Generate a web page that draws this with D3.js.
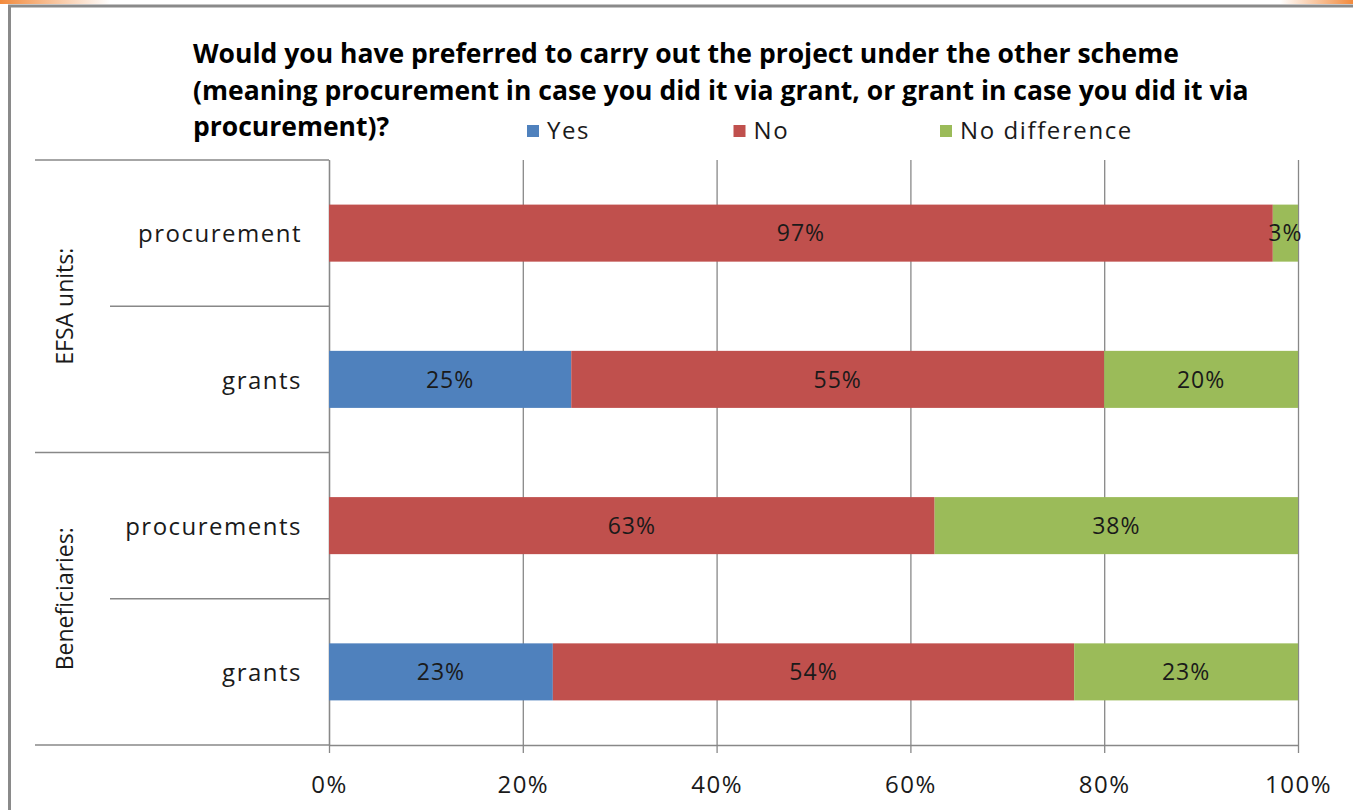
<!DOCTYPE html>
<html>
<head>
<meta charset="utf-8">
<script src="https://cdn.jsdelivr.net/npm/d3@7"></script>
<style>
    body { margin: 0; background: #fff; }
    text { fill: #1a1a1a; }
</style>
</head>
<body>
<div id="graph"></div>
<script>
// chart values
var categories = ['procurement', 'grants', 'procurements', 'grants'];
var categoryGroup = ['EFSA units:', 'EFSA units:', 'Beneficiaries:', 'Beneficiaries:'];
var groups = ['EFSA units:', 'Beneficiaries:'];
var series = ['Yes', 'No', 'No difference'];
var yesValues = [0, 25, 0, 23.1];
var noValues = [97.4, 55, 62.5, 53.8];
var noDiffValues = [2.6, 20, 37.5, 23.1];
var xTicks = [0, 20, 40, 60, 80, 100];
var titleLines = [
    'Would you have preferred to carry out the project under the other scheme',
    '(meaning procurement in case you did it via grant, or grant in case you did it via',
    'procurement)?'
];

var colors = ['#4f81bd', '#c0504d', '#9bbb59'];
var gridColor = '#888888';

var width = 1353,
    height = 810;
var plot = { left: 329, right: 1298, top: 160, bottom: 745 };

var svg = d3.select('#graph')
    .append('svg')
        .attr('width', width)
        .attr('height', height);

// orange page decoration + chart frame
var defs = svg.append('defs');
var gl = defs.append('linearGradient').attr('id', 'fadeL');
gl.append('stop').attr('offset', '0%').attr('stop-color', '#f28a3c');
gl.append('stop').attr('offset', '100%').attr('stop-color', '#ffffff');
var gr = defs.append('linearGradient').attr('id', 'fadeR');
gr.append('stop').attr('offset', '0%').attr('stop-color', '#ffffff');
gr.append('stop').attr('offset', '100%').attr('stop-color', '#f28a3c');
svg.append('rect').attr('x', 0).attr('y', 0).attr('width', 110).attr('height', 4).attr('fill', 'url(#fadeL)');
svg.append('rect').attr('x', 1280).attr('y', 0).attr('width', 73).attr('height', 4).attr('fill', 'url(#fadeR)');

svg.append('rect')
    .attr('x', 9.5)
    .attr('y', 6)
    .attr('width', width + 20)
    .attr('height', height + 20)
    .attr('fill', 'none')
    .attr('stroke', '#8a8a8a')
    .attr('stroke-width', 3);

// scales
var x = d3.scaleLinear()
    .domain([0, 100])
    .range([plot.left, plot.right]);

var y = d3.scaleBand()
    .domain(d3.range(categories.length))
    .range([plot.top, plot.bottom])
    .paddingInner(0.61)
    .paddingOuter(0.305);

// gridlines
svg.append('g')
    .attr('transform', 'translate(0,' + plot.bottom + ')')
    .call(d3.axisBottom(x).tickValues(xTicks).tickSize(-(plot.bottom - plot.top)).tickFormat(''))
    .call(g => g.select('.domain').remove())
    .call(g => g.selectAll('line').attr('stroke', gridColor).attr('stroke-width', 1.3));

// bottom axis
svg.append('g')
    .attr('transform', 'translate(0,' + plot.bottom + ')')
    .call(d3.axisBottom(x).tickValues(xTicks).tickSize(8).tickSizeOuter(0).tickPadding(23)
        .tickFormat(function(d) { return d + '%'; }))
    .call(g => g.select('.domain').attr('stroke', gridColor).attr('stroke-width', 1.3))
    .call(g => g.selectAll('line').attr('stroke', gridColor).attr('stroke-width', 1.3))
    .call(g => g.selectAll('text')
        .attr('font-family', '"Open Sans", sans-serif')
        .attr('font-size', 24)
        .attr('letter-spacing', 1.5)
        .style('fill', '#1a1a1a'));

// left axis with category names
svg.append('g')
    .attr('transform', 'translate(' + plot.left + ',0)')
    .call(d3.axisLeft(y).tickSize(0).tickPadding(27)
        .tickFormat(function(i) { return categories[i]; }))
    .call(g => g.select('.domain').attr('stroke', gridColor).attr('stroke-width', 1.3))
    .call(g => g.selectAll('text')
        .attr('font-family', '"Open Sans", sans-serif')
        .attr('font-size', 24)
        .attr('letter-spacing', 1.5)
        .attr('dy', '0.38em')
        .style('fill', '#1a1a1a'));

// row separators (long ones between groups)
var gap = (y.step() - y.bandwidth()) / 2;
var seps = categories.map(function(c, i) {
    return { y: y(i) - gap, first: i == 0 || categoryGroup[i] != categoryGroup[i - 1] };
});
seps.push({ y: y(categories.length - 1) + y.bandwidth() + gap, first: true });
svg.append('g')
    .selectAll('line')
    .data(seps).enter().append('line')
    .attr('x1', function(d) { return d.first ? 35 : 110; })
    .attr('x2', plot.left)
    .attr('y1', function(d) { return d.y; })
    .attr('y2', function(d) { return d.y; })
    .attr('stroke', gridColor)
    .attr('stroke-width', 1.3);

// group labels
svg.append('g')
    .selectAll('text')
    .data(groups).enter().append('text')
    .attr('transform', function(gname) {
        var idx = d3.range(categories.length).filter(function(i) { return categoryGroup[i] == gname; });
        var cy = (y(idx[0]) + y(idx[idx.length - 1]) + y.bandwidth()) / 2;
        return 'translate(73,' + cy + ') rotate(-90)';
    })
    .attr('text-anchor', 'middle')
    .attr('font-family', '"Open Sans", sans-serif')
    .attr('font-size', 23)
    .text(function(d) { return d; });

// stacked bars
var rows = categories.map(function(c, i) {
    return { i: i, 'Yes': yesValues[i], 'No': noValues[i], 'No difference': noDiffValues[i] };
});
var stacked = d3.stack().keys(series)(rows);

var layers = svg.append('g')
    .selectAll('g')
    .data(stacked).enter().append('g')
    .attr('fill', function(d, k) { return colors[k]; });

layers.selectAll('rect')
    .data(function(d) { return d.filter(function(s) { return s[1] - s[0] > 0; }); })
    .enter().append('rect')
    .attr('x', function(d) { return x(d[0]); })
    .attr('y', function(d) { return y(d.data.i); })
    .attr('width', function(d) { return x(d[1]) - x(d[0]); })
    .attr('height', y.bandwidth());

var fmt = d3.format('.0f');
layers.selectAll('text')
    .data(function(d) { return d.filter(function(s) { return s[1] - s[0] > 0; }); })
    .enter().append('text')
    .attr('x', function(d) { return x((d[0] + d[1]) / 2); })
    .attr('y', function(d) { return y(d.data.i) + y.bandwidth() / 2; })
    .attr('dy', '0.36em')
    .attr('text-anchor', 'middle')
    .attr('font-family', '"Open Sans", sans-serif')
    .attr('font-size', 23)
    .attr('letter-spacing', 1)
    .style('fill', '#1a1a1a')
    .text(function(d) { return fmt(d[1] - d[0]) + '%'; });

// title
svg.append('text')
    .attr('x', 193)
    .attr('y', 63)
    .attr('font-family', '"Open Sans", sans-serif')
    .attr('font-weight', 'bold')
    .attr('font-size', 26.5)
    .style('fill', '#000')
    .selectAll('tspan')
    .data(titleLines).enter().append('tspan')
    .attr('x', 193)
    .attr('dy', function(d, i) { return i == 0 ? 0 : 36.5; })
    .text(function(d) { return d; });

// legend
var legend = svg.append('g')
    .selectAll('g')
    .data(series).enter().append('g')
    .attr('transform', function(d, i) { return 'translate(' + (527 + i * 206.5) + ',125)'; });
legend.append('rect')
    .attr('width', 12)
    .attr('height', 12)
    .attr('fill', function(d, i) { return colors[i]; });
legend.append('text')
    .attr('x', 20)
    .attr('y', 14)
    .attr('font-family', '"Open Sans", sans-serif')
    .attr('font-size', 24)
    .attr('letter-spacing', 1.6)
    .style('fill', '#1a1a1a')
    .text(function(d) { return d; });
</script>
</body>
</html>
